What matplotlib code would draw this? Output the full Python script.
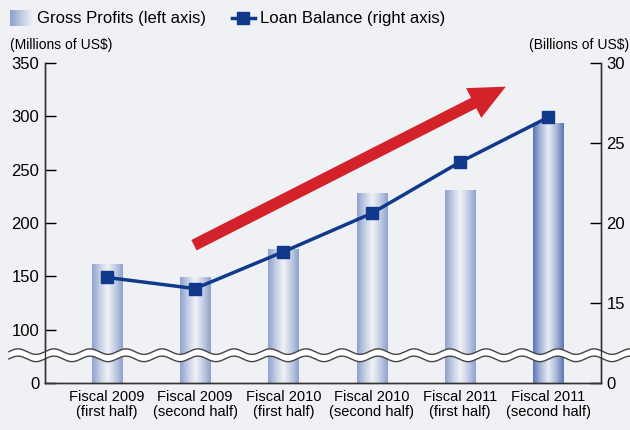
import numpy as np
import matplotlib
matplotlib.use('Agg')
import matplotlib.pyplot as plt
from matplotlib.colors import LinearSegmentedColormap
from matplotlib.patches import Polygon
from matplotlib.lines import Line2D

plt.rcParams['font.family'] = ['Liberation Sans', 'DejaVu Sans']

# data
periods = ['Fiscal 2009\n(first half)', 'Fiscal 2009\n(second half)',
           'Fiscal 2010\n(first half)', 'Fiscal 2010\n(second half)',
           'Fiscal 2011\n(first half)', 'Fiscal 2011\n(second half)']
gross_profits = [162, 149, 176, 228, 231, 294]      # millions US$
loan_balance = [16.6, 15.9, 18.2, 20.6, 23.8, 26.6]  # billions US$

left_ticks = [100, 150, 200, 250, 300, 350]
right_ticks = [15, 20, 25, 30]

bg = '#eff1f4'
navy = '#10398c'

fig = plt.figure(figsize=(6.3, 4.3), dpi=100, facecolor=bg)
ax = fig.add_axes([0.0714, 0.1093, 0.8826, 0.7442])
ax.set_facecolor(bg)
x = np.arange(len(periods))

# gradient bars (bottom of the broken axis stands for 0)
bar_cmap = LinearSegmentedColormap.from_list(
    'bar', ['#8da1cc', '#c3cde4', '#f1f2f6', '#c3cde4', '#8da1cc'])
last_cmap = LinearSegmentedColormap.from_list(
    'bar6', ['#5a76b6', '#a9b8db', '#e9ecf4', '#a9b8db', '#5a76b6'])
grad = np.linspace(0, 1, 256).reshape(1, -1)
w = 0.34
bars = ax.bar(x, np.array(gross_profits) - 50, width=w, bottom=50,
              facecolor='none', edgecolor='none', zorder=2)
for i, b in enumerate(bars):
    cm = last_cmap if i == len(bars) - 1 else bar_cmap
    im = ax.imshow(grad, cmap=cm, aspect='auto', zorder=2,
                   extent=[b.get_x(), b.get_x() + b.get_width(), 50, gross_profits[i]])
    im.set_clip_path(b)

ax.set_xlim(-0.7, 5.6)
ax.set_ylim(50, 350)
ax.set_yticks([50] + left_ticks)
ax.set_yticklabels(['0'] + [str(t) for t in left_ticks])
ax.set_xticks(x)
ax.set_xticklabels(periods, fontsize=10.5, linespacing=1.1)
ax.tick_params(axis='x', length=0, pad=5)
ax.tick_params(axis='y', direction='in', length=8, width=1, labelsize=12, pad=4)
ax.spines['top'].set_visible(False)

# right axis
ax2 = ax.twinx()
ax2.set_ylim(10, 30)
ax2.set_yticks([10] + right_ticks)
ax2.set_yticklabels(['0'] + [str(t) for t in right_ticks])
ax2.tick_params(axis='y', direction='in', length=8, width=1, labelsize=12, pad=4)
ax2.spines['top'].set_visible(False)
for a in (ax, ax2):
    for s in a.spines.values():
        s.set_color('#333333')
        s.set_linewidth(1)
ax2.plot(x, loan_balance, color=navy, lw=2.5, marker='s', markersize=8.5, zorder=5)

# red arrow
ax.annotate('', xy=(4.55, 329), xytext=(0.96, 178),
            arrowprops=dict(arrowstyle='simple,head_width=1.2,head_length=1.3,tail_width=0.42',
                            mutation_scale=20, facecolor='#d3222a', edgecolor='none'),
            zorder=4)

# axis break (wavy band)
xs = np.linspace(-0.065, 1.06, 600)
wave = 2.6 * np.sin(2 * np.pi * (xs * 556) / 36.0)
base = 76
upper = base + 3.4 + wave
lower = base - 3.4 + wave
trans = matplotlib.transforms.blended_transform_factory(ax.transAxes, ax.transData)
band = Polygon(np.column_stack([np.r_[xs, xs[::-1]], np.r_[upper, lower[::-1]]]),
               closed=True, facecolor='white', edgecolor='none', transform=trans,
               clip_on=False, zorder=6)
ax.add_patch(band)
for yy in (upper, lower):
    ax.plot(xs, yy, color='#444444', lw=1, transform=trans, clip_on=False, zorder=7)

# unit labels
fig.text(0.016, 0.895, '(Millions of US$)', fontsize=10, va='center', ha='left')
fig.text(0.998, 0.895, '(Billions of US$)', fontsize=10, va='center', ha='right')

# legend
lax = fig.add_axes([0.016, 0.94, 0.036, 0.036])
lax.imshow(grad, cmap=LinearSegmentedColormap.from_list('lg', ['#8da1cc', '#f1f2f6']),
           aspect='auto')
lax.axis('off')
fig.text(0.059, 0.958, 'Gross Profits (left axis)', fontsize=12, va='center', ha='left')
fig.add_artist(Line2D([0.368, 0.404], [0.958, 0.958], color=navy, lw=2.5,
                      transform=fig.transFigure))
fig.add_artist(Line2D([0.386], [0.958], color=navy, marker='s', markersize=8,
                      transform=fig.transFigure))
fig.text(0.412, 0.958, 'Loan Balance (right axis)', fontsize=12, va='center', ha='left')

fig.savefig('out.png', dpi=100, facecolor=bg)
